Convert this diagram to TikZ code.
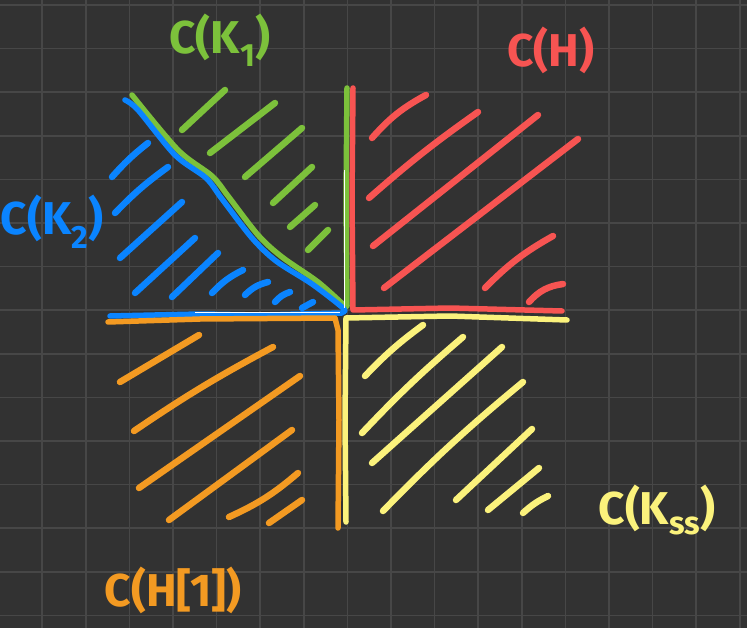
\documentclass[tikz,border=0pt]{standalone}
\usepackage{fontspec}
\setmainfont{Fira Sans}
\definecolor{bgc}{HTML}{323232}
\definecolor{gridc}{HTML}{474747}
\definecolor{kgreen}{HTML}{7CC13B}
\definecolor{kblue}{HTML}{0A84FF}
\definecolor{kred}{HTML}{F75452}
\definecolor{korange}{HTML}{F39A22}
\definecolor{kyellow}{HTML}{FBF27C}
\tikzset{
  hatch/.style={line width=6.5pt, line cap=round, line join=round},
  axisline/.style={line width=5.5pt, line cap=round, line join=round},
  gridline/.style={gridc, line width=1.6pt},
  lbl/.style={font=\fontsize{46}{46}\selectfont\bfseries, inner sep=0pt},
}
\begin{document}
\begin{tikzpicture}[x=1pt,y=-1pt]
\fill[bgc] (0,0) rectangle (747,628);
\useasboundingbox (0,0) rectangle (747,628);
% grid
\foreach \i in {0,...,16} \draw[gridline] ({42.2+43.6*\i},0) -- ({42.2+43.6*\i},628);
\foreach \j in {0,...,14} \draw[gridline] (0,{5+43.6*\j}) -- (747,{5+43.6*\j});

% ---- green region C(K1)
\draw[axisline, kgreen] plot[smooth] coordinates {(132,95) (178,150) (212,176) (228,196) (258,235) (282,257) (318,282) (346,307)};
\draw[axisline, kgreen] (347,88) -- (346,200) -- (347,306);
\foreach \a/\b in {{(182,130)/(225,90)},{(210,153)/(275,103)},{(245,177)/(302,128)},{(273,203)/(312,167)},{(290,227)/(315,205)},{(308,250)/(328,230)}}
  \draw[hatch, kgreen] \a -- \b;

% ---- blue region C(K2)
\draw[axisline, kblue] plot[smooth] coordinates {(125,100) (138,110) (175,155) (206,178) (222,199) (252,238) (276,261) (312,284) (343,308) (343,312)};
\draw[axisline, kblue] (110,316) -- (200,314) -- (260,315) -- (342,313);
\draw[hatch, kblue] (112,177) to[bend left=5] (148,143);
\draw[hatch, kblue] (115,213) to[bend left=5] (168,167);
\draw[hatch, kblue] (120,258) -- (182,202);
\draw[hatch, kblue] (135,293) -- (195,238);
\draw[hatch, kblue] (172,297) -- (218,253);
\draw[hatch, kblue] (212,293) to[bend left=10] (243,270);
\draw[hatch, kblue] (245,295) to[bend left=15] (268,282);
\draw[hatch, kblue] (275,302) to[bend left=15] (290,292);
\draw[hatch, kblue] (302,308) -- (313,302);
\draw[white, line width=0.8pt] (195,312) -- (340,312);

% ---- red region C(H)
\draw[axisline, kred] (353,88) -- (352,200) -- (353,310) -- (450,308) -- (562,311);
\draw[hatch, kred] (372,138) to[bend left=10] (426,95);
\draw[hatch, kred] (369,198) to[bend left=3] (478,112);
\draw[hatch, kred] (373,246) -- (538,115);
\draw[hatch, kred] (384,288) -- (578,139);
\draw[hatch, kred] (485,288) to[bend left=8] (553,236);
\draw[hatch, kred] (529,302) to[bend left=20] (563,284);
\draw[white, line width=0.8pt] (344,170) -- (344,308);

% ---- orange region C(H[1])
\draw[axisline, korange] (108,322) -- (200,319) -- (335,318) -- (338,330) -- (339,420) -- (338,528);
\draw[hatch, korange] (120,382) -- (199,335);
\draw[hatch, korange] (134,431) to[bend left=3] (273,347);
\draw[hatch, korange] (139,488) -- (300,376);
\draw[hatch, korange] (169,520) -- (292,430);
\draw[hatch, korange] (229,517) to[bend right=8] (298,473);
\draw[hatch, korange] (269,523) -- (302,500);

% ---- yellow region C(Kss)
\draw[axisline, kyellow] (346,522) -- (345,420) -- (346,318) -- (450,316) -- (567,320);
\draw[hatch, kyellow] (365,376) to[bend left=5] (423,325);
\draw[hatch, kyellow] (362,433) to[bend left=3] (463,337);
\draw[hatch, kyellow] (372,463) -- (502,347);
\draw[hatch, kyellow] (383,511) to[bend left=3] (523,382);
\draw[hatch, kyellow] (456,500) -- (532,429);
\draw[hatch, kyellow] (488,510) -- (539,468);
\draw[hatch, kyellow] (523,513) to[bend left=8] (548,496);

% ---- labels
\node[lbl, kgreen] (lk1) at (220,40) {C(K\textsubscript{1})};
\node[lbl, kred] (lh) at (551,50) {C(H)};
\node[lbl, kblue] (lk2) at (52,222) {C(K\textsubscript{2})};
\node[lbl, korange] (lh1) at (173,590) {C(H[1])};
\node[lbl, kyellow] (lkss) at (657,510) {C(K\textsubscript{ss})};
\end{tikzpicture}
\end{document}
